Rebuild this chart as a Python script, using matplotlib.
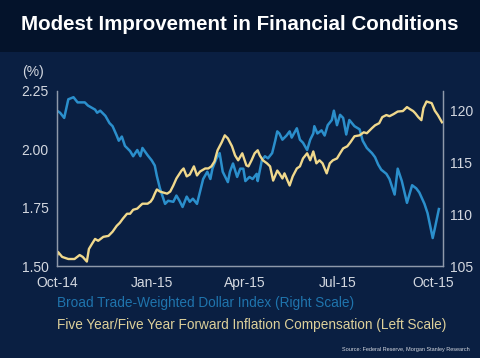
"""
Modest improvement in financial conditions: broad trade-weighted dollar
index (right scale) vs 5y5y forward inflation compensation (left scale).
Values read off the Morgan Stanley slide.
"""

import matplotlib
matplotlib.use("Agg")
import matplotlib.pyplot as plt
import matplotlib.dates as mdates
import pandas as pd

BG, BAND = "#0a1f42", "#04132b"
BLUE, YELLOW = "#2b8fcc", "#f0d88c"
BLUE_TXT, YELLOW_TXT = "#1f74ad", "#ddd09a"
GREY = "#d4d8e0"
SPINE = "#8f99aa"
plt.rcParams["font.family"] = ["Liberation Sans", "DejaVu Sans"]

# Broad trade-weighted dollar index (right scale)
dollar_dates = [
    "2014-10-01", "2014-10-04", "2014-10-08", "2014-10-12", "2014-10-17", "2014-10-21", "2014-10-28",
    "2014-10-31", "2014-11-07", "2014-11-09", "2014-11-12", "2014-11-17", "2014-11-21", "2014-11-24",
    "2014-11-28", "2014-11-30", "2014-12-03", "2014-12-06", "2014-12-11", "2014-12-14", "2014-12-18",
    "2014-12-21", "2014-12-23", "2014-12-28", "2015-01-01", "2015-01-04", "2015-01-06", "2015-01-09",
    "2015-01-14", "2015-01-17", "2015-01-22", "2015-01-25", "2015-01-28", "2015-01-31", "2015-02-04",
    "2015-02-07", "2015-02-10", "2015-02-14", "2015-02-17", "2015-02-20", "2015-02-24", "2015-02-27",
    "2015-03-01", "2015-03-05", "2015-03-08", "2015-03-11", "2015-03-16", "2015-03-18", "2015-03-21",
    "2015-03-25", "2015-03-28", "2015-03-31", "2015-04-02", "2015-04-06", "2015-04-09", "2015-04-13",
    "2015-04-14", "2015-04-18", "2015-04-21", "2015-04-24", "2015-04-28", "2015-05-01", "2015-05-03",
    "2015-05-05", "2015-05-08", "2015-05-12", "2015-05-15", "2015-05-17", "2015-05-22", "2015-05-25",
    "2015-05-28", "2015-06-01", "2015-06-04", "2015-06-07", "2015-06-08", "2015-06-11", "2015-06-15",
    "2015-06-18", "2015-06-21", "2015-06-25", "2015-06-27", "2015-06-30", "2015-07-03", "2015-07-06",
    "2015-07-09", "2015-07-12", "2015-07-17", "2015-07-22", "2015-07-25", "2015-07-29", "2015-08-03",
    "2015-08-06", "2015-08-09", "2015-08-12", "2015-08-17", "2015-08-20", "2015-08-25", "2015-08-28",
    "2015-09-01", "2015-09-06", "2015-09-11", "2015-09-15", "2015-09-18", "2015-09-23", "2015-09-26",
    "2015-10-01", "2015-10-03", "2015-10-07",
]
dollar_index = [
    120.0, 119.8, 119.3, 121.1, 121.3, 120.8, 120.8, 120.5, 120.1, 119.8,
    120.0, 119.5, 118.8, 118.5, 117.6, 117.1, 117.5, 116.6, 116.1, 115.6,
    116.2, 115.6, 116.4, 115.7, 115.2, 114.7, 113.7, 112.5, 111.0, 111.3,
    111.2, 111.8, 111.3, 110.7, 111.7, 111.2, 111.5, 111.0, 112.2, 113.4,
    114.1, 113.4, 114.4, 115.4, 115.9, 114.1, 113.1, 114.1, 114.9, 113.6,
    114.4, 114.4, 113.2, 113.6, 113.4, 113.9, 113.2, 115.2, 115.6, 115.4,
    115.9, 117.1, 118.0, 117.8, 117.2, 117.6, 118.0, 117.4, 118.3, 117.2,
    116.9, 116.2, 117.2, 117.8, 118.5, 117.8, 118.1, 117.6, 118.6, 119.1,
    120.0, 118.6, 119.6, 119.3, 117.7, 119.1, 118.5, 118.2, 117.1, 116.4,
    115.9, 115.5, 114.8, 114.3, 113.9, 113.4, 111.9, 114.4, 113.2, 111.1,
    112.8, 112.5, 112.1, 111.0, 110.1, 107.7, 108.6, 110.5,
]

# 5y/5y forward inflation compensation, % (left scale)
infl_dates = [
    "2014-10-01", "2014-10-02", "2014-10-06", "2014-10-12", "2014-10-18", "2014-10-23", "2014-10-26",
    "2014-10-30", "2014-11-01", "2014-11-04", "2014-11-07", "2014-11-10", "2014-11-15", "2014-11-20",
    "2014-11-24", "2014-11-28", "2014-12-01", "2014-12-04", "2014-12-08", "2014-12-11", "2014-12-14",
    "2014-12-18", "2014-12-21", "2014-12-23", "2014-12-28", "2014-12-31", "2015-01-02", "2015-01-04",
    "2015-01-06", "2015-01-09", "2015-01-16", "2015-01-19", "2015-01-22", "2015-01-25", "2015-01-30",
    "2015-02-01", "2015-02-04", "2015-02-07", "2015-02-11", "2015-02-14", "2015-02-17", "2015-02-22",
    "2015-02-25", "2015-02-28", "2015-03-03", "2015-03-06", "2015-03-10", "2015-03-13", "2015-03-16",
    "2015-03-20", "2015-03-23", "2015-03-26", "2015-03-30", "2015-04-03", "2015-04-05", "2015-04-08",
    "2015-04-11", "2015-04-14", "2015-04-16", "2015-04-19", "2015-04-23", "2015-04-26", "2015-04-29",
    "2015-05-03", "2015-05-05", "2015-05-08", "2015-05-10", "2015-05-15", "2015-05-18", "2015-05-22",
    "2015-05-25", "2015-05-28", "2015-06-01", "2015-06-04", "2015-06-07", "2015-06-10", "2015-06-13",
    "2015-06-16", "2015-06-20", "2015-06-23", "2015-06-26", "2015-06-30", "2015-07-03", "2015-07-06",
    "2015-07-10", "2015-07-13", "2015-07-17", "2015-07-22", "2015-07-26", "2015-07-29", "2015-08-03",
    "2015-08-06", "2015-08-10", "2015-08-13", "2015-08-17", "2015-08-20", "2015-08-24", "2015-08-28",
    "2015-09-02", "2015-09-06", "2015-09-09", "2015-09-12", "2015-09-14", "2015-09-17", "2015-09-20",
    "2015-09-22", "2015-09-25", "2015-09-30", "2015-10-03", "2015-10-06", "2015-10-10",
]
infl_comp = [
    1.543, 1.560, 1.539, 1.530, 1.530, 1.547, 1.539, 1.519, 1.573, 1.595,
    1.616, 1.608, 1.625, 1.629, 1.647, 1.672, 1.685, 1.703, 1.724, 1.724,
    1.741, 1.746, 1.759, 1.767, 1.767, 1.776, 1.789, 1.810, 1.828, 1.819,
    1.810, 1.819, 1.845, 1.875, 1.909, 1.918, 1.884, 1.892, 1.927, 1.888,
    1.905, 1.918, 1.918, 1.927, 1.948, 1.996, 2.030, 2.060, 2.047, 2.013,
    1.974, 1.953, 1.983, 1.931, 1.927, 1.953, 1.983, 1.996, 1.974, 1.953,
    1.940, 1.927, 1.866, 1.909, 1.897, 1.875, 1.897, 1.845, 1.884, 1.918,
    1.927, 1.961, 1.983, 1.953, 1.991, 1.940, 1.953, 1.940, 1.897, 1.940,
    1.953, 1.961, 1.983, 2.004, 2.013, 2.030, 2.056, 2.060, 2.073, 2.069,
    2.091, 2.103, 2.112, 2.138, 2.147, 2.142, 2.151, 2.162, 2.164, 2.181,
    2.172, 2.164, 2.155, 2.138, 2.125, 2.177, 2.205, 2.198, 2.166, 2.147,
    2.116,
]

left_ticks = [1.50, 1.75, 2.00, 2.25]
right_ticks = [105, 110, 115, 120]
x_ticks = ["2014-10-01", "2015-01-01", "2015-04-01", "2015-07-01", "2015-10-01"]


def main() -> None:
    fig = plt.figure(figsize=(4.8, 3.58), dpi=100, facecolor=BG)
    # dark title band
    fig.patches.append(plt.Rectangle((0, 1 - 52 / 358), 1, 52 / 358, transform=fig.transFigure,
                                     facecolor=BAND, edgecolor="none", zorder=0))
    fig.text(0.5, 1 - 25 / 358, "Modest Improvement in Financial Conditions", color="white",
             fontsize=14.8, fontweight="bold", ha="center", va="center")

    ax = fig.add_axes([57 / 480, 1 - 266 / 358, 386 / 480, 175 / 358])
    ax2 = ax.twinx()
    ax.set_zorder(ax2.get_zorder() + 1)
    ax.patch.set_visible(False)
    ax2.set_facecolor(BG)

    ax2.plot(pd.to_datetime(dollar_dates), dollar_index, color=BLUE, lw=1.8)
    ax.plot(pd.to_datetime(infl_dates), infl_comp, color=YELLOW, lw=1.7)

    ax.set_ylim(1.50, 2.25)
    ax2.set_ylim(105, 121.9)
    ax.set_xlim(pd.Timestamp("2014-10-01"), pd.Timestamp("2015-10-11"))
    ax.set_yticks(left_ticks, [f"{t:.2f}" for t in left_ticks])
    ax2.set_yticks(right_ticks, [str(t) for t in right_ticks])
    ax.set_xticks(pd.to_datetime(x_ticks))
    ax.xaxis.set_major_formatter(mdates.DateFormatter("%b-%y"))

    for a in (ax, ax2):
        a.tick_params(length=0, colors=GREY, labelsize=10)
        for side, sp in a.spines.items():
            sp.set_color(SPINE)
            sp.set_linewidth(0.9)
            sp.set_visible(side != "top")
    ax.tick_params(axis="y", pad=6)
    ax2.tick_params(axis="y", pad=5)
    ax.tick_params(axis="x", pad=7)

    fig.text(22 / 480, 1 - 72 / 358, "(%)", color=GREY, fontsize=10, va="center")
    fig.text(57 / 480, 1 - 303 / 358, "Broad Trade-Weighted Dollar Index (Right Scale)",
             color=BLUE_TXT, fontsize=9.8, va="center")
    fig.text(57 / 480, 1 - 325 / 358, "Five Year/Five Year Forward Inflation Compensation (Left Scale)",
             color=YELLOW_TXT, fontsize=9.8, va="center")
    fig.text(470 / 480, 1 - 349 / 358, "Source: Federal Reserve, Morgan Stanley Research",
             color=GREY, fontsize=4.0, ha="right", va="center")

    fig.savefig("out.png", dpi=100, facecolor=BG)


if __name__ == "__main__":
    main()
